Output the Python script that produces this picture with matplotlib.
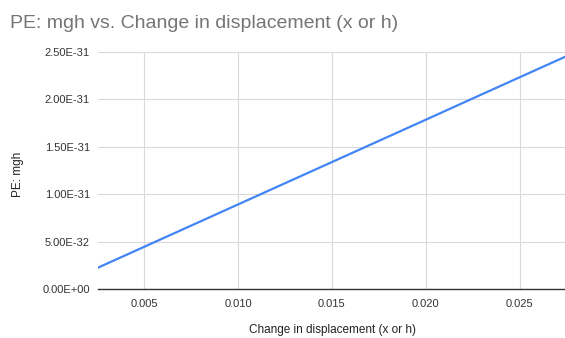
import matplotlib
matplotlib.use("Agg")
import matplotlib.pyplot as plt
from matplotlib.ticker import FuncFormatter

# data (PE = m g h, electron mass)
h_values = [0.0025, 0.005, 0.0075, 0.01, 0.0125, 0.015, 0.0175, 0.02, 0.0225, 0.025, 0.0275]
pe_values = [2.232e-32, 4.463e-32, 6.695e-32, 8.927e-32, 1.116e-31, 1.339e-31,
             1.562e-31, 1.785e-31, 2.009e-31, 2.232e-31, 2.455e-31]
x_ticks = [0.005, 0.010, 0.015, 0.020, 0.025]
y_ticks = [0.0, 5e-32, 1e-31, 1.5e-31, 2e-31, 2.5e-31]

plt.rcParams['font.family'] = ['Liberation Sans', 'DejaVu Sans']

fig = plt.figure(figsize=(5.65, 3.38), dpi=100)
ax = fig.add_axes([0.174, 0.144, 0.826, 0.703])

ax.plot(h_values, pe_values, color='#4285F4', linewidth=1.6, solid_capstyle='butt', zorder=3)

ax.set_xlim(0.00257, 0.0274)
ax.set_ylim(0, 2.5e-31)
ax.set_xticks(x_ticks)
ax.set_yticks(y_ticks)
ax.xaxis.set_major_formatter(FuncFormatter(lambda v, p: f"{v:.3f}"))


def sci(v, p):
    s = f"{v:.2E}"
    mant, exp = s.split("E")
    sign = exp[0]
    num = int(exp[1:])
    return f"{mant}E{sign}{num:02d}" if sign == '+' else f"{mant}E-{num}"


ax.yaxis.set_major_formatter(FuncFormatter(sci))

ax.grid(True, color='#d9d9d9', linewidth=0.8)
ax.set_axisbelow(True)
for s in ['top', 'right', 'left']:
    ax.spines[s].set_visible(False)
ax.spines['bottom'].set_color('#333333')
ax.spines['bottom'].set_linewidth(1.0)
ax.tick_params(length=0, labelsize=8, labelcolor='#333333')
ax.tick_params(axis='x', pad=7)
ax.tick_params(axis='y', pad=6)

fig.text(0.018, 0.93, "PE: mgh vs. Change in displacement (x or h)", fontsize=14,
         color='#757575', ha='left', va='center')
fig.text(0.032, 0.485, "PE: mgh", rotation=90, fontsize=8.5, color='#222222',
         ha='center', va='center')
fig.text(0.588, 0.005, "Change in displacement (x or h)", fontsize=8.5, color='#222222',
         ha='center', va='bottom')

fig.savefig("out.png", dpi=100)
